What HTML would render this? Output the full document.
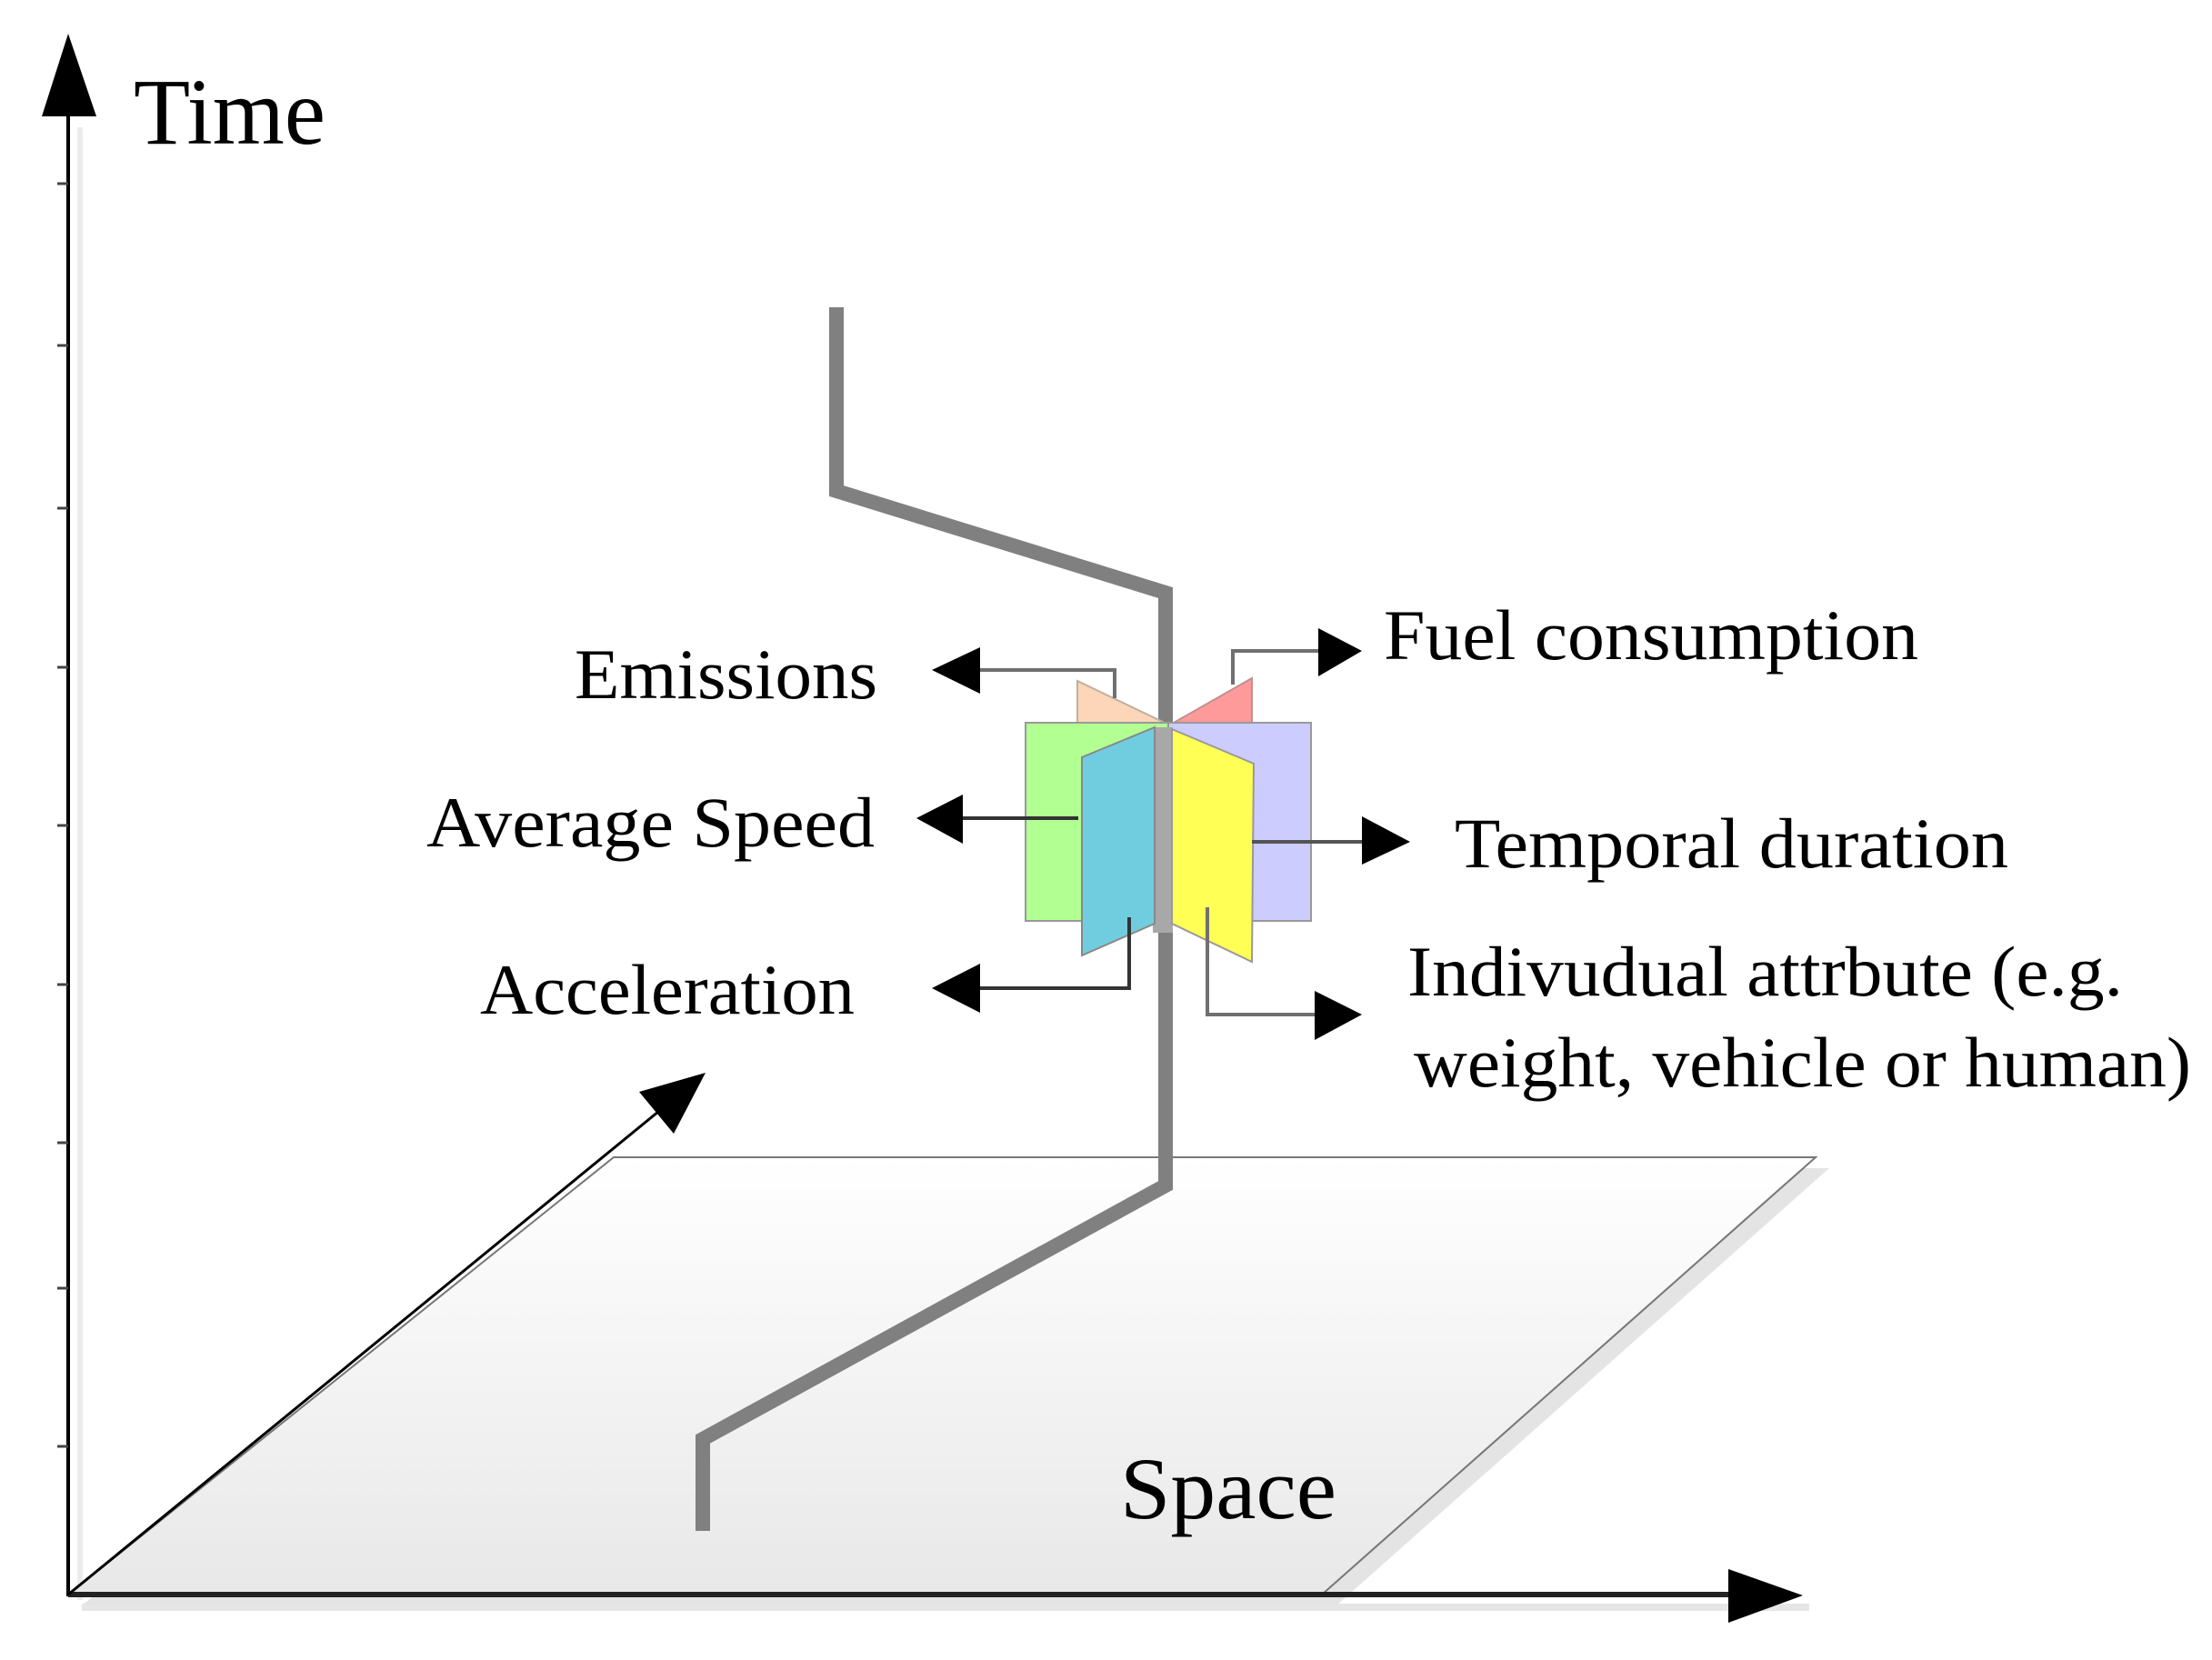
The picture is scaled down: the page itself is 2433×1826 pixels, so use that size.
<!DOCTYPE html>
<html><head><meta charset="utf-8"><style>html,body{margin:0;padding:0;background:#fff}svg{display:block}</style></head>
<body>
<svg width="2433" height="1826" viewBox="0 0 2433 1826" xmlns="http://www.w3.org/2000/svg" font-family="Liberation Serif, serif">
<defs>
<linearGradient id="g" x1="0" y1="0" x2="0" y2="1"><stop offset="0" stop-color="#ffffff"/><stop offset="1" stop-color="#e8e8e8"/></linearGradient>
</defs>
<!-- shadows -->
<line x1="88" y1="140" x2="88" y2="1760" stroke="#ececec" stroke-width="6"/>
<line x1="90" y1="1768" x2="1990" y2="1768" stroke="#e6e6e6" stroke-width="8"/>
<polygon points="690,1285 2012,1285 1470,1766 90,1766" fill="#e4e4e4"/>
<!-- plane -->
<polygon points="675,1273 1997,1273 1454,1754 75,1754" fill="url(#g)" stroke="#777" stroke-width="2"/>
<!-- vertical axis -->
<line x1="75" y1="120" x2="75" y2="1756" stroke="#000" stroke-width="4"/>
<polygon points="75,37 46,128 106,128" fill="#000"/>
<g stroke="#444" stroke-width="3">
<line x1="63" y1="202" x2="75" y2="202"/><line x1="63" y1="380" x2="75" y2="380"/><line x1="63" y1="559" x2="75" y2="559"/><line x1="63" y1="734" x2="75" y2="734"/><line x1="63" y1="908" x2="75" y2="908"/><line x1="63" y1="1083" x2="75" y2="1083"/><line x1="63" y1="1257" x2="75" y2="1257"/><line x1="63" y1="1417" x2="75" y2="1417"/><line x1="63" y1="1591" x2="75" y2="1591"/>
</g>
<!-- horizontal axis -->
<line x1="75" y1="1754" x2="1910" y2="1754" stroke="#222" stroke-width="6"/>
<polygon points="1983,1755 1901,1726 1901,1785" fill="#000"/>
<!-- diagonal axis -->
<line x1="75" y1="1754" x2="730" y2="1218" stroke="#000" stroke-width="3"/>
<polygon points="776,1180 741,1247 703,1201" fill="#000"/>
<!-- trajectory -->
<polyline points="920,338 920,540 1282,652 1282,1304 773,1583 773,1684" fill="none" stroke="#808080" stroke-width="16"/>
<!-- panels -->
<polygon points="1185,749 1185,795 1281,795" fill="#fdd5b8" stroke="#c0b0a0" stroke-width="2"/>
<polygon points="1377,746 1377,795 1291,795" fill="#ff9a9a" stroke="#c09090" stroke-width="2"/>
<rect x="1128" y="795" width="157" height="218" fill="#b2ff92" stroke="#999" stroke-width="2"/>
<rect x="1285" y="795" width="157" height="218" fill="#ccccff" stroke="#999" stroke-width="2"/>
<rect x="1268" y="800" width="22" height="226" fill="#a8a8a8"/>
<polygon points="1190,833 1270,800 1270,1016 1190,1051" fill="#70cde0" stroke="#888" stroke-width="2"/>
<polygon points="1289,802 1379,840 1377,1058 1289,1016" fill="#ffff55" stroke="#999" stroke-width="2"/>
<!-- connectors -->
<g fill="none" stroke="#707070" stroke-width="4">
<polyline points="1226,768 1226,737 1070,737"/>
<polyline points="1356,753 1356,716 1455,716"/>
<polyline points="1186,900 1050,900" stroke="#333"/>
<polyline points="1377,926 1505,926" stroke="#555"/>
<polyline points="1242,1009 1242,1087 1070,1087" stroke="#333"/>
<polyline points="1328,998 1328,1116 1450,1116"/>
</g>
<g fill="#000">
<polygon points="1025,737 1078,712 1078,763"/>
<polygon points="1498,716 1450,691 1450,744"/>
<polygon points="1008,900 1059,874 1059,928"/>
<polygon points="1551,926 1498,898 1498,951"/>
<polygon points="1025,1087 1078,1060 1078,1114"/>
<polygon points="1498,1116 1446,1090 1446,1144"/>
</g>
<!-- labels -->
<g font-size="78" fill="#000">
<text x="147" y="158" font-size="104" textLength="211" lengthAdjust="spacingAndGlyphs">Time</text>
<text x="632" y="768" textLength="333" lengthAdjust="spacingAndGlyphs">Emissions</text>
<text x="469" y="931" textLength="493" lengthAdjust="spacingAndGlyphs">Average Speed</text>
<text x="528" y="1115" textLength="412" lengthAdjust="spacingAndGlyphs">Acceleration</text>
<text x="1522" y="725" textLength="588" lengthAdjust="spacingAndGlyphs">Fuel consumption</text>
<text x="1600" y="954" textLength="609" lengthAdjust="spacingAndGlyphs">Temporal duration</text>
<text x="1548" y="1095" textLength="787" lengthAdjust="spacingAndGlyphs">Indivudual attrbute (e.g.</text>
<text x="1555" y="1195" textLength="855" lengthAdjust="spacingAndGlyphs">weight, vehicle or human)</text>
<text x="1232" y="1670" font-size="96" textLength="238" lengthAdjust="spacingAndGlyphs">Space</text>
</g>
</svg>
</body></html>
